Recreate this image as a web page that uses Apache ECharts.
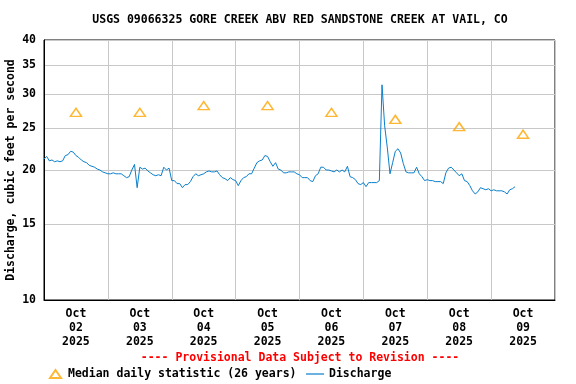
<!DOCTYPE html>
<html>
<head>
<meta charset="utf-8">
<script src="https://cdn.jsdelivr.net/npm/echarts@6/dist/echarts.min.js"></script>
<style>html,body{margin:0;padding:0;background:#fff}#c{width:576px;height:384px}</style>
</head>
<body>
<div id="c"></div>
<script>
// Tick labels (one per day, shown at noon)
const dayLabels = ['Oct\n02\n2025','Oct\n03\n2025','Oct\n04\n2025','Oct\n05\n2025','Oct\n06\n2025','Oct\n07\n2025','Oct\n08\n2025','Oct\n09\n2025'];
const yTicks = [10, 15, 20, 25, 30, 35, 40];
// Median daily statistic (26 years), one per day
const medianValues = [27.2, 27.2, 28.2, 28.2, 27.2, 26.2, 25.2, 24.2];
// Discharge, hourly from Oct 02 2025 00:00
const dischargeOct02 = [21.2,21.5,21.0,21.1,20.9,21.0,20.9,21.0,21.6,21.7,22.1,22.0,21.6,21.4,21.1,20.9,20.8,20.5,20.4,20.3,20.1,20.0,19.8,19.7];
const dischargeOct03 = [19.6,19.6,19.7,19.6,19.6,19.6,19.4,19.2,19.3,20.0,20.6,18.2,20.3,20.1,20.2,19.9,19.7,19.5,19.4,19.5,19.4,20.3,20.0,20.2];
const dischargeOct04 = [18.9,18.9,18.6,18.6,18.2,18.5,18.5,18.8,19.3,19.6,19.4,19.5,19.6,19.8,19.9,19.8,19.8,19.9,19.5,19.2,19.1,18.9,19.2,19.0];
const dischargeOct05 = [18.9,18.4,18.9,19.2,19.3,19.6,19.6,20.2,20.8,21.0,21.1,21.6,21.5,20.9,20.4,20.8,20.1,20.0,19.7,19.7,19.8,19.8,19.8,19.6];
const dischargeOct06 = [19.5,19.2,19.2,19.2,18.9,18.8,19.4,19.6,20.3,20.3,20.0,20.0,19.9,19.8,20.0,19.8,20.0,19.8,20.4,19.3,19.2,19.0,18.6,18.5];
const dischargeOct07 = [18.7,18.3,18.7,18.7,18.7,18.7,18.9,31.5,25.3,22.5,19.6,20.8,22.1,22.4,21.9,20.7,19.8,19.7,19.7,19.7,20.3,19.6,19.3,18.9];
const dischargeOct08 = [19.0,18.9,18.9,18.8,18.8,18.8,18.6,19.7,20.2,20.3,20.0,19.7,19.4,19.6,18.9,18.8,18.4,17.9,17.6,17.8,18.2,18.1,18.0,18.1];
const dischargeOct09 = [17.9,18.0,17.9,17.9,17.9,17.8,17.6,18.0,18.1,18.3];

const discharge = [].concat(dischargeOct02, dischargeOct03, dischargeOct04, dischargeOct05,
  dischargeOct06, dischargeOct07, dischargeOct08, dischargeOct09);
const dischargeData = discharge.map((v, i) => [i, v]);
const medianData = medianValues.map((v, i) => [12 + 24 * i, v]);
const labelHours = dayLabels.map((d, i) => 12 + 24 * i);

const FONT = 'DejaVu Sans Mono';
const BLUE = '#0A7FCC';
const chart = echarts.init(document.getElementById('c'), null, {renderer: 'canvas'});
chart.setOption({
  animation: false,
  backgroundColor: '#fff',
  grid: {left: 44, right: 21, top: 40, bottom: 84, containLabel: false, outerBoundsMode: 'none',
         show: true, borderColor: '#000', borderWidth: 1},
  graphic: [
    {type: 'text', x: 300, y: 20, style: {text: 'USGS 09066325 GORE CREEK ABV RED SANDSTONE CREEK AT VAIL, CO', fill: '#000', font: 'bold 11.5px "' + FONT + '"', textAlign: 'center', textVerticalAlign: 'middle'}},
    {type: 'text', x: 300, y: 358, style: {text: '---- Provisional Data Subject to Revision ----', fill: '#ff0000', font: 'bold 11.5px "' + FONT + '"', textAlign: 'center', textVerticalAlign: 'middle'}}
  ],
  legend: [
    {data: ['Median daily statistic (26 years)'], left: 49, top: 368, itemWidth: 11, itemHeight: 8, padding: 0,
     textStyle: {color: '#000', fontFamily: FONT, fontWeight: 'bold', fontSize: 11.5, padding: [0, 0, 0, 2]}},
    {data: [{name: 'Discharge', icon: 'rect'}], left: 306, top: 368, itemWidth: 18, itemHeight: 1.2, padding: 0,
     itemStyle: {color: BLUE, borderWidth: 0},
     textStyle: {color: '#000', fontFamily: FONT, fontWeight: 'bold', fontSize: 11.5}}
  ],
  xAxis: {
    type: 'value', min: 0, max: 192, interval: 24,
    axisLine: {show: true, lineStyle: {color: '#000', width: 1}},
    axisTick: {show: false},
    splitLine: {show: true, lineStyle: {color: '#c8c8c8', width: 1}},
    axisLabel: {customValues: labelHours, formatter: v => dayLabels[Math.round((v - 12) / 24)],
      color: '#000', fontFamily: FONT, fontWeight: 'bold', fontSize: 11.5, lineHeight: 14, margin: 7}
  },
  yAxis: {
    type: 'log', min: 10, max: 40, logBase: 10,
    name: 'Discharge, cubic feet per second', nameLocation: 'middle', nameGap: 27, nameRotate: 90,
    nameMoveOverlap: false,
    nameTextStyle: {color: '#000', fontFamily: FONT, fontWeight: 'bold', fontSize: 11.5},
    axisLine: {show: true, lineStyle: {color: '#000', width: 1}},
    axisTick: {show: false, customValues: yTicks},
    splitLine: {show: true, lineStyle: {color: '#c8c8c8', width: 1}},
    minorSplitLine: {show: false},
    axisLabel: {customValues: yTicks, formatter: v => String(v), color: '#000', fontFamily: FONT, fontWeight: 'bold', fontSize: 11.5, margin: 8}
  },
  series: [
    {name: 'Median daily statistic (26 years)', type: 'scatter', data: medianData, symbol: 'triangle', symbolSize: [11, 8],
     itemStyle: {color: 'rgba(255,255,255,0)', borderColor: '#FFA500', borderWidth: 1.5}, z: 3},
    {name: 'Discharge', type: 'line', data: dischargeData, symbol: 'none', showSymbol: false,
     lineStyle: {color: BLUE, width: 1}, itemStyle: {color: BLUE}, z: 2}
  ]
});
</script>
</body>
</html>
